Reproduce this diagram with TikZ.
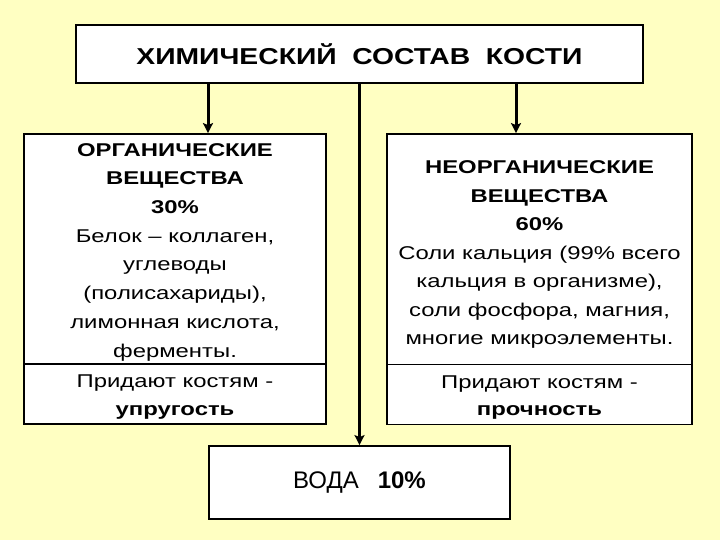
\documentclass[tikz,border=0pt]{standalone}
\usepackage{fontspec}
\setmainfont{Liberation Sans}
\newfontfamily\boxfont{Liberation Sans}[FakeStretch=1.29]
\newfontfamily\titlefont{Liberation Sans}[FakeStretch=1.23]
\usetikzlibrary{arrows.meta}
\definecolor{slideyellow}{RGB}{255,255,194}

\begin{document}
\begin{tikzpicture}[x=1pt,y=-1pt,
    box/.style={draw=black,line width=1.8pt,fill=white,inner sep=0pt,align=center,
      font=\boxfont\fontsize{18.5}{29}\selectfont},
    arr/.style={line width=3pt,-{Stealth[length=10pt,width=10pt,inset=2pt]}}]
  \fill[slideyellow] (0,0) rectangle (720,540);
  % title
  \node[box,minimum width=567pt,minimum height=58pt,
    font=\titlefont\bfseries\fontsize{23}{27}\selectfont] (title) at (359.5,54)
    {ХИМИЧЕСКИЙ\ \ СОСТАВ\ \ КОСТИ};
  % organic part
  \node[box,minimum width=302pt,minimum height=230pt,
    font=\boxfont\fontsize{18.5}{28.7}\selectfont] (org) at (175,249)
    {\rule{0pt}{19pt}\textbf{ОРГАНИЧЕСКИЕ}\\ \textbf{ВЕЩЕСТВА}\\ \textbf{30\%}\\ Белок – коллаген,\\
     углеводы\\ (полисахариды),\\ лимонная кислота,\\ ферменты.};
  \node[box,minimum width=302pt,minimum height=60pt,
    font=\boxfont\fontsize{18.5}{27.5}\selectfont] (orgrole) at (175,394)
    {\rule{0pt}{19pt}Придают костям -\\ \textbf{упругость}};
  % inorganic part
  \node[box,minimum width=305pt,minimum height=231pt,
    font=\boxfont\fontsize{18.5}{28.5}\selectfont] (inorg) at (539.5,249.5)
    {\rule{0pt}{23pt}\textbf{НЕОРГАНИЧЕСКИЕ}\\ \textbf{ВЕЩЕСТВА}\\ \textbf{60\%}\\ Соли кальция (99\% всего\\
     кальция в организме),\\ соли фосфора, магния,\\ многие микроэлементы.};
  \node[box,minimum width=305pt,minimum height=60pt,
    font=\boxfont\fontsize{18.5}{27.5}\selectfont] (inorgrole) at (539.5,394.5)
    {\rule{0pt}{19pt}Придают костям -\\ \textbf{прочность}};
  % water
  \node[box,minimum width=301pt,minimum height=73pt,
    font=\fontsize{24}{28}\selectfont] (water) at (359.5,482.5)
    {ВОДА\hspace{19pt}\textbf{10\%}};
  % arrows
  \draw[arr] ([xshift=-151.5pt]title.south) -- ([xshift=-151.5pt]title.south |- org.north);
  \draw[arr] ([xshift=156.5pt]title.south) -- ([xshift=156.5pt]title.south |- inorg.north);
  \draw[arr] (title.south) -- (water.north);
\end{tikzpicture}
\end{document}
